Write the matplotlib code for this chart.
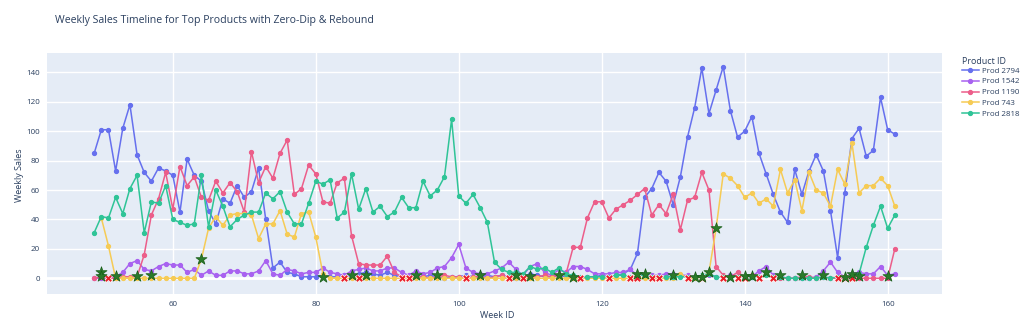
import numpy as np
import matplotlib
matplotlib.use("Agg")
import matplotlib.pyplot as plt

plt.rcParams['font.family'] = ['Open Sans', 'DejaVu Sans']

weeks = list(range(49, 162))
nan = np.nan

prod_2794 = [85, 101, 101, 73, 102, 118, 84, 72, 66, 75,
             73, 70, 45, 81, 70, 66, 46, 37, 54, 51,
             63, 55, 59, 75, 40, 7, 11, 4, 3, 1,
             1, 1, 2, 1, 1, 2, 1, 3, 4, 3,
             2, 4, 2, 1, 0, 1, 1, 2, 1, 0,
             1, 1, 2, 1, 1, 2, 1, 2, 1, 0,
             1, 3, 2, 1, 1, 2, 1, 1, 0, 1,
             1, 2, 1, 2, 3, 6, 17, 55, 61, 72,
             66, 50, 69, 96, 116, 143, 112, 128, 144, 114,
             96, 100, 110, 85, 71, 57, 45, 38, 74, 57,
             73, 84, 73, 46, 14, 58, 95, 102, 83, 87,
             123, 101, 98]

prod_1542 = [0, 0, 0, 1, 4, 10, 12, 6, 5, 8,
             10, 9, 9, 4, 6, 2, 5, 2, 2, 5,
             5, 3, 3, 5, 12, 3, 2, 6, 5, 3,
             4, 4, 7, 4, 3, 2, 5, 6, 7, 5,
             5, 7, 7, 4, 2, 5, 3, 4, 7, 8,
             14, 23, 7, 4, 3, 3, 5, 7, 11, 6,
             2, 8, 10, 4, 2, 6, 4, 8, 8, 6,
             3, 3, 3, 4, 4, 6, 2, 3, 2, 2,
             3, 3, 2, 2, 1, 1, 2, 1, 1, 2,
             2, 1, 1, 5, 8, 2, 1, 0, 0, 0,
             0, 1, 5, 11, 4, 1, 3, 4, 3, 3,
             8, 2, 3]

prod_1190 = [0, 1, 0, 0, 1, 1, 1, 16, 43, 54,
             72, 47, 76, 63, 69, 55, 53, 66, 58, 65,
             59, 45, 86, 65, 76, 68, 85, 94, 57, 61,
             77, 71, 52, 51, 65, 68, 29, 10, 9, 9,
             9, 15, 4, 1, 0, 1, 1, 0, 1, 2,
             1, 1, 0, 1, 1, 0, 1, 2, 0, 1,
             0, 1, 1, 2, 1, 2, 3, 21, 21, 41,
             52, 52, 41, 47, 50, 53, 57, 61, 43, 50,
             44, 57, 33, 53, 55, 72, 60, 8, 2, 1,
             4, 1, 2, 1, 2, 1, 0, 0, 0, 1,
             1, 0, 1, 0, 0, 0, 0, 0, 0, 0,
             0, 0, 20]

prod_743 = [nan, 41, 22, 0, 0, 0, 0, 0, 0, 0,
            0, 0, 0, 0, 0, 13, 34, 42, 36, 43,
            44, 44, 43, 27, 37, 37, 46, 30, 28, 44,
            45, 28, 3, 0, 0, 0, 0, 0, 0, 0,
            0, 0, 0, 0, 0, 0, 0, 0, 0, 0,
            0, 0, 0, 0, 0, 0, 0, 0, 0, 0,
            0, 0, 0, 0, 0, 0, 0, 0, 0, 0,
            0, 0, 0, 0, 0, 0, 0, 0, 0, 0,
            0, 0, 3, 0, 0, 1, 4, 34, 71, 68,
            63, 55, 58, 51, 54, 49, 74, 58, 67, 46,
            72, 60, 58, 49, 74, 64, 92, 58, 63, 63,
            68, 63, 49]

prod_2818 = [31, 42, 41, 55, 44, 61, 70, 31, 52, 51,
             63, 40, 38, 36, 37, 70, 35, 60, 49, 35,
             40, 43, 45, 45, 58, 54, 59, 45, 37, 37,
             51, 66, 64, 67, 41, 45, 71, 47, 61, 45,
             49, 42, 45, 55, 48, 48, 66, 56, 60, 69,
             108, 56, 51, 57, 48, 38, 11, 6, 4, 4,
             3, 8, 6, 7, 4, 7, 3, 2, 1, 1,
             1, 1, 1, 2, 2, 1, 2, 2, 1, 1,
             1, 1, 1, 1, 1, 2, 3, 1, 1, 1,
             1, 1, 1, 1, 2, 1, 1, 0, 0, 0,
             0, 0, 1, 0, 1, 1, 1, 3, 21, 36,
             49, 34, 43]

products = ["Prod 2794", "Prod 1542", "Prod 1190", "Prod 743", "Prod 2818"]
series = [prod_2794, prod_1542, prod_1190, prod_743, prod_2818]
colors = ["#6670EE", "#A862F0", "#EC5E8A", "#F6CB55", "#2FC497"]

# rebound points (star) and zero-dip points (red x)
rebound_weeks = [50, 50, 52, 55, 57, 64, 81, 85, 87, 94, 97, 103, 108, 110,
                 114, 116, 125, 126, 130, 133, 134, 135, 136, 138, 140, 141,
                 143, 145, 148, 151, 154, 155, 156, 160]
rebound_vals = [4, 1.5, 1.5, 1.5, 2.5, 13, 1, 2, 2, 2, 2.5, 2, 2, 1.5,
                2, 1, 3, 3, 2, 1, 1, 4, 34, 1, 1.5, 1.5,
                4, 2, 2, 2, 1, 3, 1.5, 1.5]
dip_weeks = [51, 84, 86, 92, 93, 101, 107, 109, 117, 121, 124, 125, 127, 128,
             132, 134, 137, 139, 140, 142, 144, 153, 154, 155]
dip_vals = [0] * len(dip_weeks)

text_color = "#2a3f5f"

fig = plt.figure(figsize=(10.24, 3.23), dpi=100)
ax = fig.add_axes([47 / 1024, 1 - 294 / 323, 895 / 1024, 241 / 323])
ax.set_facecolor("#E5ECF6")
for s in ax.spines.values():
    s.set_visible(False)

ax.set_xlim(42.4, 167.6)
ax.set_ylim(-10.7, 153.2)
ax.set_xticks([60, 80, 100, 120, 140, 160])
ax.set_yticks([0, 20, 40, 60, 80, 100, 120, 140])
ax.grid(True, color="white", linewidth=1.0)
ax.axhline(0, color="white", linewidth=2, zorder=1)
ax.set_axisbelow(True)
ax.tick_params(length=0, labelsize=5.8, colors=text_color, pad=5)

for name, vals, c in zip(products, series, colors):
    ax.plot(weeks, vals, color=c, linewidth=1.1, marker="o", markersize=2.8,
            label=name, zorder=3)

ax.scatter(dip_weeks, dip_vals, marker="X", s=32, color="#e8202a",
           edgecolors="white", linewidths=0.5, zorder=5)
ax.scatter(rebound_weeks, rebound_vals, marker="*", s=70, color="#2a7a2a",
           edgecolors="#175c17", linewidths=0.5, zorder=6)

fig.text(497 / 1024, 1 - 315 / 323, "Week ID", fontsize=6.5, color=text_color,
         ha="center", va="center")
fig.text(19 / 1024, 1 - 175 / 323, "Weekly Sales", fontsize=6.5, color=text_color,
         ha="center", va="center", rotation=90)

fig.text(55 / 1024, 1 - 20 / 323, "Weekly Sales Timeline for Top Products with Zero-Dip & Rebound",
         fontsize=7.6, color=text_color, va="center", ha="left")

# legend title drawn separately so the rows can sit close under it
fig.text(962 / 1024, 1 - 61 / 323, "Product ID", fontsize=6.4, color=text_color,
         va="center", ha="left")
leg = ax.legend(loc="upper left", bbox_to_anchor=(962 / 1024, 1 - 67 / 323),
                bbox_transform=fig.transFigure, frameon=False,
                fontsize=5.7, handlelength=2.1, handletextpad=0.4,
                labelspacing=0.42, borderpad=0, borderaxespad=0)
for t in leg.get_texts():
    t.set_color(text_color)

fig.savefig("out.png", dpi=100)
